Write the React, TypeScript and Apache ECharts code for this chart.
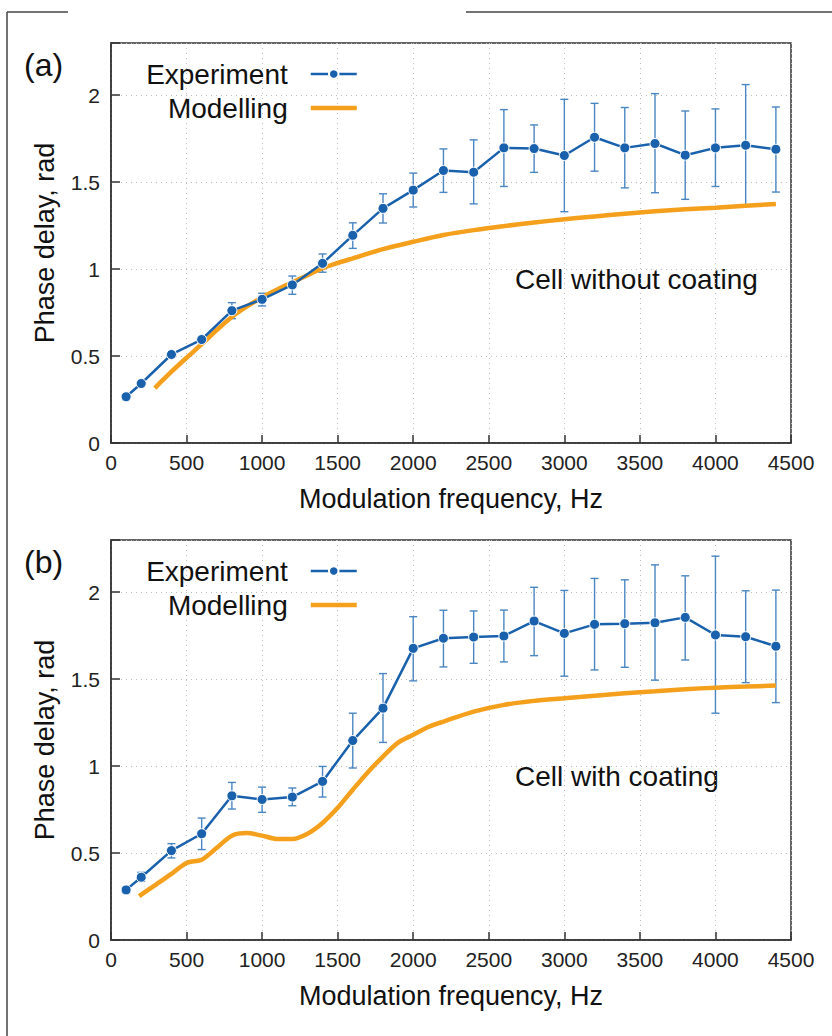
import React, { useEffect, useRef } from "react";
import * as echarts from "echarts";

// ---------- DATA ----------
const freqs = [100, 200, 400, 600, 800, 1000, 1200, 1400, 1600, 1800, 2000, 2200, 2400, 2600, 2800, 3000, 3200, 3400, 3600, 3800, 4000, 4200, 4400];

const expA = [0.266, 0.342, 0.509, 0.595, 0.761, 0.826, 0.909, 1.033, 1.194, 1.349, 1.454, 1.567, 1.557, 1.697, 1.693, 1.653, 1.758, 1.697, 1.722, 1.655, 1.697, 1.712, 1.689];
const errLowA = [0.25, 0.33, 0.495, 0.58, 0.715, 0.788, 0.855, 0.982, 1.119, 1.265, 1.357, 1.441, 1.375, 1.475, 1.556, 1.33, 1.563, 1.467, 1.439, 1.401, 1.475, 1.368, 1.443];
const errHighA = [0.28, 0.355, 0.52, 0.61, 0.807, 0.861, 0.96, 1.087, 1.266, 1.433, 1.552, 1.691, 1.743, 1.917, 1.829, 1.976, 1.953, 1.929, 2.009, 1.909, 1.921, 2.061, 1.932];

const modelFreqA = [290, 400, 500, 600, 700, 800, 900, 1000, 1100, 1200, 1300, 1400, 1500, 1600, 1800, 2000, 2200, 2400, 2600, 2800, 3000, 3200, 3400, 3600, 3800, 4000, 4200, 4400];
const modelA = [0.316, 0.41, 0.49, 0.568, 0.65, 0.725, 0.785, 0.838, 0.883, 0.924, 0.965, 1.005, 1.035, 1.062, 1.115, 1.157, 1.196, 1.224, 1.247, 1.268, 1.286, 1.303, 1.318, 1.332, 1.344, 1.353, 1.364, 1.374];

const expB = [0.288, 0.361, 0.514, 0.611, 0.829, 0.808, 0.822, 0.912, 1.147, 1.333, 1.677, 1.735, 1.742, 1.748, 1.834, 1.763, 1.815, 1.819, 1.824, 1.855, 1.754, 1.744, 1.689];
const errLowB = [0.27, 0.337, 0.472, 0.52, 0.753, 0.734, 0.772, 0.822, 0.989, 1.136, 1.49, 1.57, 1.591, 1.599, 1.635, 1.517, 1.553, 1.568, 1.494, 1.61, 1.304, 1.48, 1.365];
const errHighB = [0.305, 0.389, 0.554, 0.701, 0.906, 0.879, 0.874, 0.998, 1.304, 1.532, 1.859, 1.896, 1.892, 1.897, 2.028, 2.01, 2.079, 2.071, 2.157, 2.094, 2.207, 2.008, 2.012];

const modelFreqB = [186, 300, 400, 500, 600, 700, 800, 900, 1000, 1100, 1200, 1300, 1400, 1500, 1600, 1700, 1800, 1900, 2000, 2100, 2200, 2400, 2600, 2800, 3000, 3200, 3400, 3600, 3800, 4000, 4200, 4400];
const modelB = [0.252, 0.32, 0.38, 0.443, 0.462, 0.53, 0.6, 0.615, 0.6, 0.581, 0.581, 0.611, 0.673, 0.76, 0.864, 0.965, 1.055, 1.135, 1.18, 1.225, 1.256, 1.313, 1.352, 1.375, 1.39, 1.405, 1.419, 1.43, 1.442, 1.451, 1.457, 1.463];

const xTicks = { min: 0, max: 4500, interval: 500 };
const yTicks = { min: 0, max: 2.3, interval: 0.5 };
const panelLabels = ["(a)", "(b)"];
const panelNotes = ["Cell without coating", "Cell with coating"];
const seriesNames = ["Experiment", "Modelling"];
const xName = "Modulation frequency, Hz";
const yName = "Phase delay, rad";

// ---------- STYLE ----------
const FONT = "'Liberation Sans', Arial, Helvetica, sans-serif";
const BLUE = "#1a61ad";
const ERR = "#4a86c2";
const ORANGE = "#f5a01c";
const gridTops = [43, 540];

const zip = (xs: number[], ys: number[]) => xs.map((x, i) => [x, ys[i]]);

function errorSeries(idx: number, lows: number[], highs: number[]) {
  return {
    type: "custom",
    name: "Experiment error",
    xAxisIndex: idx,
    yAxisIndex: idx,
    silent: true,
    z: 2,
    data: freqs.map((f, i) => [f, lows[i], highs[i]]),
    encode: { x: 0, y: [1, 2] },
    renderItem: (params: any, api: any) => {
      const x = api.value(0);
      const lo = api.coord([x, api.value(1)]);
      const hi = api.coord([x, api.value(2)]);
      const hw = 4;
      const style = { stroke: ERR, lineWidth: 1.4, fill: "none" };
      return {
        type: "group",
        children: [
          { type: "line", shape: { x1: lo[0], y1: lo[1], x2: hi[0], y2: hi[1] }, style },
          { type: "line", shape: { x1: lo[0] - hw, y1: lo[1], x2: lo[0] + hw, y2: lo[1] }, style },
          { type: "line", shape: { x1: hi[0] - hw, y1: hi[1], x2: hi[0] + hw, y2: hi[1] }, style },
        ],
      };
    },
  };
}

function makeAxes(idx: number) {
  const x = {
    type: "value",
    gridIndex: idx,
    ...xTicks,
    name: xName,
    nameLocation: "middle",
    nameGap: 42,
    nameTextStyle: { fontFamily: FONT, fontSize: 27, color: "#111" },
    axisLine: { show: true, lineStyle: { color: "#333", width: 1.5 } },
    axisTick: { show: true, inside: true, length: 8, lineStyle: { color: "#333", width: 1.5 } },
    axisLabel: { fontFamily: FONT, fontSize: 21, color: "#222", margin: 9, formatter: (v: number) => String(v) },
    splitLine: { show: true, lineStyle: { color: "#bbb", type: [1, 4], width: 1 } },
  };
  const y = {
    type: "value",
    gridIndex: idx,
    ...yTicks,
    name: yName,
    nameLocation: "middle",
    nameGap: 53,
    nameTextStyle: { fontFamily: FONT, fontSize: 27, color: "#111" },
    axisLine: { show: true, lineStyle: { color: "#333", width: 1.5 } },
    axisTick: { show: true, inside: true, length: 9, lineStyle: { color: "#333", width: 1.5 } },
    axisLabel: {
      fontFamily: FONT,
      fontSize: 21,
      color: "#222",
      margin: 11,
      formatter: (v: number) => (Math.abs(v * 2 - Math.round(v * 2)) < 1e-6 ? String(v) : ""),
    },
    splitLine: { show: true, lineStyle: { color: "#bbb", type: [1, 4], width: 1 } },
  };
  return { x, y };
}

function makeLegend(idx: number) {
  return {
    data: [
      { name: seriesNames[0], lineStyle: { width: 2.5, color: BLUE } },
      { name: seriesNames[1], lineStyle: { width: 4.5, color: ORANGE }, itemStyle: { opacity: 0 } },
    ],
    orient: "vertical",
    align: "right",
    right: 473,
    top: gridTops[idx] + 17,
    padding: 0,
    itemWidth: 46,
    itemHeight: 12,
    itemGap: 6,
    selectedMode: false,
    textStyle: { fontFamily: FONT, fontSize: 28, color: "#111", padding: [0, 18, 0, 0] },
  };
}

export default function App() {
  const ref = useRef<HTMLDivElement>(null);
  useEffect(() => {
    if (!ref.current) return;
    const chart = echarts.init(ref.current, undefined, { renderer: "svg" });
    const a0 = makeAxes(0);
    const a1 = makeAxes(1);
    const modelSeries = (idx: number, xs: number[], ys: number[]) => ({
      name: seriesNames[1],
      type: "line",
      xAxisIndex: idx,
      yAxisIndex: idx,
      data: zip(xs, ys),
      symbol: "none",
      smooth: 0.3,
      color: ORANGE,
      itemStyle: { color: ORANGE },
      lineStyle: { color: ORANGE, width: 4.5 },
      z: 3,
    });
    const expSeries = (idx: number, ys: number[]) => ({
      name: seriesNames[0],
      type: "line",
      xAxisIndex: idx,
      yAxisIndex: idx,
      data: zip(freqs, ys),
      symbol: "circle",
      symbolSize: 10,
      color: BLUE,
      itemStyle: { color: BLUE, borderColor: "#fff", borderWidth: 1 },
      lineStyle: { color: BLUE, width: 2.5 },
      z: 4,
    });
    const option: any = {
      animation: false,
      backgroundColor: "#fff",
      grid: gridTops.map((t) => ({
        left: 111,
        top: t,
        width: 680,
        height: 400,
        show: true,
        borderColor: "#333",
        borderWidth: 1.5,
        backgroundColor: "transparent",
      })),
      xAxis: [a0.x, a1.x],
      yAxis: [a0.y, a1.y],
      legend: [makeLegend(0), makeLegend(1)],
      series: [
        errorSeries(0, errLowA, errHighA),
        errorSeries(1, errLowB, errHighB),
        modelSeries(0, modelFreqA, modelA),
        modelSeries(1, modelFreqB, modelB),
        expSeries(0, expA),
        expSeries(1, expB),
      ],
      graphic: [
        { type: "line", shape: { x1: 7, y1: 12, x2: 68, y2: 12 }, style: { stroke: "#444", lineWidth: 1.5 } },
        { type: "line", shape: { x1: 466, y1: 12, x2: 832, y2: 12 }, style: { stroke: "#444", lineWidth: 1.5 } },
        { type: "line", shape: { x1: 7, y1: 12, x2: 7, y2: 1036 }, style: { stroke: "#444", lineWidth: 1.5 } },
        ...panelLabels.map((t, i) => ({
          type: "text",
          x: 24,
          y: gridTops[i] + 22,
          style: { text: t, fontFamily: FONT, fontSize: 32, fill: "#111", verticalAlign: "middle" },
        })),
        ...panelNotes.map((t, i) => ({
          type: "text",
          x: 515,
          y: [279, 776][i],
          style: { text: t, fontFamily: FONT, fontSize: 28, fill: "#111", verticalAlign: "middle", align: "left" },
        })),
      ],
    };
    chart.setOption(option);
    return () => chart.dispose();
  }, []);
  return <div ref={ref} style={{ position: "fixed", left: 0, top: 0, width: 832, height: 1036 }} />;
}
